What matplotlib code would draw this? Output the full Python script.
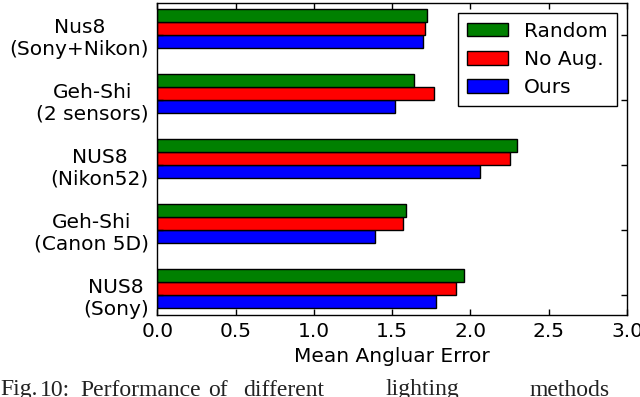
import matplotlib
matplotlib.use("Agg")
import matplotlib.pyplot as plt
import numpy as np

categories = ["NUS8\n(Sony)", "Geh-Shi\n(Canon 5D)", "NUS8\n(Nikon52)", "Geh-Shi\n(2 sensors)", "Nus8\n(Sony+Nikon)"]
series_names = ["Random", "No Aug.", "Ours"]
random_vals = [1.96, 1.59, 2.30, 1.64, 1.72]
noaug_vals = [1.91, 1.57, 2.25, 1.77, 1.71]
ours_vals = [1.78, 1.39, 2.06, 1.52, 1.70]
xticks = [0.0, 0.5, 1.0, 1.5, 2.0, 2.5, 3.0]
xlabel = "Mean Angluar Error"
caption_words = ["Fig.", "10:", "Performance", "of", "different", "lighting", "methods"]

plt.rcParams['font.family'] = ['DejaVu Sans']
fig = plt.figure(figsize=(6.4, 3.97), dpi=100)
ax = fig.add_axes([157.3/640, 1-315/397, (627-157.3)/640, (315-2.7)/397])

ind = np.arange(len(categories))
h = 0.2
b_ours = ax.barh(ind, ours_vals, height=h, align='edge', color='#0000ff', edgecolor='black', linewidth=1)
b_noaug = ax.barh(ind + h, noaug_vals, height=h, align='edge', color='#ff0000', edgecolor='black', linewidth=1)
b_rand = ax.barh(ind + 2*h, random_vals, height=h, align='edge', color='#008000', edgecolor='black', linewidth=1)

fs = 14.5
ax.set_xlim(0, 3.0)
ax.set_ylim(-0.11, 4.69)
ax.set_xticks(xticks)
ax.set_xticklabels([f"{t:.1f}" for t in xticks], fontsize=fs)
ax.set_yticks(ind + h)
ax.set_yticklabels(categories, fontsize=fs, multialignment='center')
ax.tick_params(axis='both', direction='in', top=True, right=True, length=4, width=1)
ax.tick_params(axis='x', pad=5)
ax.tick_params(axis='y', pad=6)
for s in ax.spines.values():
    s.set_linewidth(1)
ax.set_xlabel(xlabel, fontsize=fs, labelpad=4)

leg = ax.legend([b_rand, b_noaug, b_ours], series_names, loc='upper right', fontsize=fs,
                fancybox=False, framealpha=1, edgecolor='black', borderaxespad=0.5,
                handlelength=2.05, handleheight=0.65, labelspacing=0.45, handletextpad=0.8,
                borderpad=0.45)
leg.get_frame().set_linewidth(1)

xs = [0, 40, 80, 208, 243, 385, 530]
for w, x in zip(caption_words, xs):
    fig.text(x/640, 1.5/397, w, fontsize=17, family='Liberation Serif', va='baseline', ha='left', color='#222222')

fig.savefig("out.png", dpi=100)
